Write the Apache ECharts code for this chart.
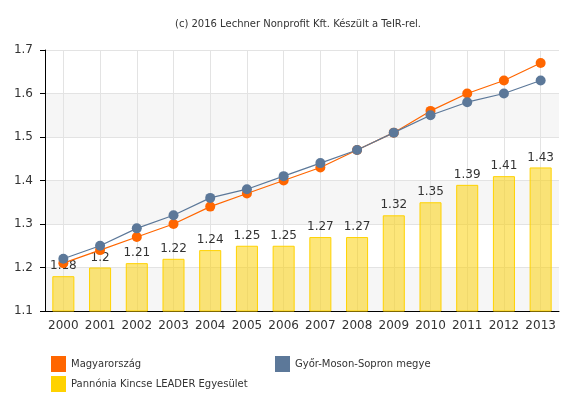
<!DOCTYPE html>
<html><head><meta charset="utf-8">
<script src="https://cdn.jsdelivr.net/npm/echarts@6/dist/echarts.min.js"></script>
<style>html,body{margin:0;padding:0;background:#fff}#c{width:580px;height:400px}</style>
</head><body><div id="c"></div>
<script>
const years = ['2000','2001','2002','2003','2004','2005','2006','2007','2008','2009','2010','2011','2012','2013'];
const magyarorszag = [1.21,1.24,1.27,1.30,1.34,1.37,1.40,1.43,1.47,1.51,1.56,1.60,1.63,1.67];
const gyor = [1.22,1.25,1.29,1.32,1.36,1.38,1.41,1.44,1.47,1.51,1.55,1.58,1.60,1.63];
const pannonia = [1.18,1.2,1.21,1.22,1.24,1.25,1.25,1.27,1.27,1.32,1.35,1.39,1.41,1.43];
const yMin = 1.1, yMax = 1.7, yStep = 0.1;
const names = ['Magyarország','Győr-Moson-Sopron megye','Pannónia Kincse LEADER Egyesület'];

const font = 'DejaVu Sans, Verdana, sans-serif';
const chart = echarts.init(document.getElementById('c'), null, {renderer:'canvas'});
const legendText = {color:'#333', fontSize:10, fontFamily:font};
const lg = (name, left, top, color) => ({data:[{name:name, itemStyle:{color:color, borderWidth:0}}],
  left:left, top:top, itemWidth:15, itemHeight:16, icon:'rect', textStyle:legendText, itemGap:4, selectedMode:false});
chart.setOption({
  animation:false,
  title:{text:'(c) 2016 Lechner Nonprofit Kft. Készült a TeIR-rel.', left:170, top:14,
    textStyle:{fontSize:10, fontWeight:'normal', color:'#333', fontFamily:font}},
  legend:[
    lg(names[0], 46, 351, '#ff6600'),
    lg(names[1], 270, 351, '#5c7899'),
    lg(names[2], 46, 371, '#ffd200')
  ],
  grid:{left:45, right:21, top:50, bottom:89, containLabel:false},
  xAxis:{type:'category', data:years, boundaryGap:true,
    axisLine:{lineStyle:{color:'#000', width:1}},
    axisTick:{alignWithLabel:true, interval:0, length:5, lineStyle:{color:'#000'}},
    axisLabel:{interval:0, color:'#333', fontSize:12, fontFamily:font, margin:9},
    splitLine:{show:true, interval:0, alignWithLabel:true, lineStyle:{color:'#e3e3e3'}}
  },
  yAxis:{type:'value', min:yMin, max:yMax, interval:yStep,
    axisLine:{show:true, lineStyle:{color:'#000'}},
    axisTick:{show:true, length:5, lineStyle:{color:'#000'}},
    axisLabel:{color:'#333', fontSize:12, fontFamily:font, margin:12, formatter:v=>v.toFixed(1)},
    splitLine:{lineStyle:{color:'#e3e3e3'}},
    splitArea:{show:true, areaStyle:{color:['#f6f6f6','#ffffff']}}
  },
  series:[
    {name:names[2], type:'bar', data:pannonia, barWidth:'60%', z:1,
      itemStyle:{color:'rgba(252,208,0,0.52)', borderColor:'#ffd200', borderWidth:1},
      label:{show:true, position:'top', distance:4, color:'#333', fontSize:12, fontFamily:font}},
    {name:names[0], type:'line', data:magyarorszag, symbol:'circle', symbolSize:10, z:3,
      lineStyle:{color:'#ff6600', width:1.2}, itemStyle:{color:'#ff6600'}},
    {name:names[1], type:'line', data:gyor, symbol:'circle', symbolSize:10, z:4,
      lineStyle:{color:'#5c7899', width:1.2}, itemStyle:{color:'#5c7899'}}
  ]
});
</script></body></html>
